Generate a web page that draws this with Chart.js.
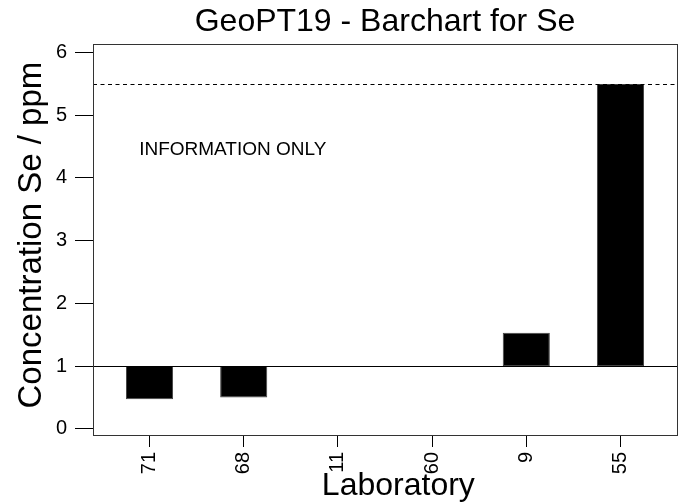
<!DOCTYPE html>
<html>
<head>
<meta charset="utf-8">
<script src="https://cdn.jsdelivr.net/npm/chart.js@4"></script>
<style>
  body { margin: 0; background: #fff; }
</style>
</head>
<body>
<canvas id="chart" width="689" height="503"></canvas>
<script>
// laboratories in plotted order and their reported Se values (ppm)
const labs = ['71', '68', '11', '60', '9', '55'];
const values = [0.47, 0.50, null, null, 1.53, 5.50];
const assigned = 1;      // bars hang from this line
const upperLimit = 5.5;  // dashed line
const yTicks = [0, 1, 2, 3, 4, 5, 6];

const FONT = "'Liberation Sans', Arial, sans-serif";

const bars = [];
labs.forEach((lab, i) => {
  if (values[i] !== null) bars.push({ x: i + 1, y: [assigned, values[i]] });
});

const extras = {
  id: 'extras',
  afterDatasetsDraw(chart) {
    const { ctx, chartArea: a, scales: { x, y } } = chart;
    ctx.save();
    ctx.strokeStyle = '#000';
    ctx.lineWidth = 1;

    // assigned value line
    let py = Math.round(y.getPixelForValue(assigned)) + 0.5;
    ctx.beginPath();
    ctx.moveTo(a.left, py);
    ctx.lineTo(a.right, py);
    ctx.stroke();

    // upper dashed line
    py = Math.round(y.getPixelForValue(upperLimit)) + 0.5;
    ctx.setLineDash([4, 3.5]);
    ctx.beginPath();
    ctx.moveTo(a.left, py);
    ctx.lineTo(a.right, py);
    ctx.stroke();
    ctx.setLineDash([]);

    // box
    ctx.strokeStyle = '#333';
    ctx.strokeRect(Math.round(a.left) + 0.5, Math.round(a.top) + 0.5,
      Math.round(a.right - a.left), Math.round(a.bottom - a.top));

    // note
    ctx.fillStyle = '#000';
    ctx.font = '19px ' + FONT;
    ctx.textBaseline = 'middle';
    ctx.textAlign = 'left';
    ctx.fillText('INFORMATION ONLY', x.getPixelForValue(0.89), y.getPixelForValue(4.45));
    ctx.restore();
  }
};

new Chart(document.getElementById('chart').getContext('2d'), {
  type: 'bar',
  data: {
    datasets: [{
      data: bars,
      backgroundColor: '#000',
      borderColor: '#444',
      borderWidth: 1,
      borderSkipped: false,
      barPercentage: 0.5,
      categoryPercentage: 1
    }]
  },
  options: {
    responsive: false,
    animation: false,
    layout: { padding: { left: 0, right: 12, top: 0, bottom: 0 } },
    plugins: {
      legend: { display: false },
      tooltip: { enabled: false },
      title: {
        display: true,
        fullSize: false,
        text: 'GeoPT19 - Barchart for Se',
        color: '#000',
        font: { family: FONT, size: 32, weight: 'normal' },
        padding: { top: 3, bottom: 3 }
      }
    },
    scales: {
      x: {
        type: 'linear',
        min: 0.4,
        max: 6.6,
        offset: false,
        afterBuildTicks: s => { s.ticks = labs.map((l, i) => ({ value: i + 1 })); },
        afterFit: s => { s.height = 68; },
        grid: { offset: false, drawOnChartArea: false, drawTicks: true, tickLength: 12, color: '#000' },
        border: { display: true, color: '#000' },
        ticks: {
          autoSkip: false,
          minRotation: 90,
          maxRotation: 90,
          padding: 5,
          color: '#000',
          font: { family: FONT, size: 20 },
          callback: v => labs[v - 1]
        },
        title: {
          display: true,
          text: '   Laboratory',
          color: '#000',
          font: { family: FONT, size: 32 },
          padding: { top: 0, bottom: -2 }
        }
      },
      y: {
        min: -0.1,
        max: 6.13,
        afterBuildTicks: s => { s.ticks = yTicks.map(v => ({ value: v })); },
        afterFit: s => { s.width = 93; },
        grid: { drawOnChartArea: false, drawTicks: true, tickLength: 18, color: '#000' },
        border: { display: true, color: '#000' },
        ticks: {
          padding: 8,
          color: '#000',
          font: { family: FONT, size: 20 }
        },
        title: {
          display: true,
          text: ' Concentration Se / ppm',
          color: '#000',
          font: { family: FONT, size: 33 },
          padding: { top: 12, bottom: 0 }
        }
      }
    }
  },
  plugins: [extras]
});
</script>
</body>
</html>
